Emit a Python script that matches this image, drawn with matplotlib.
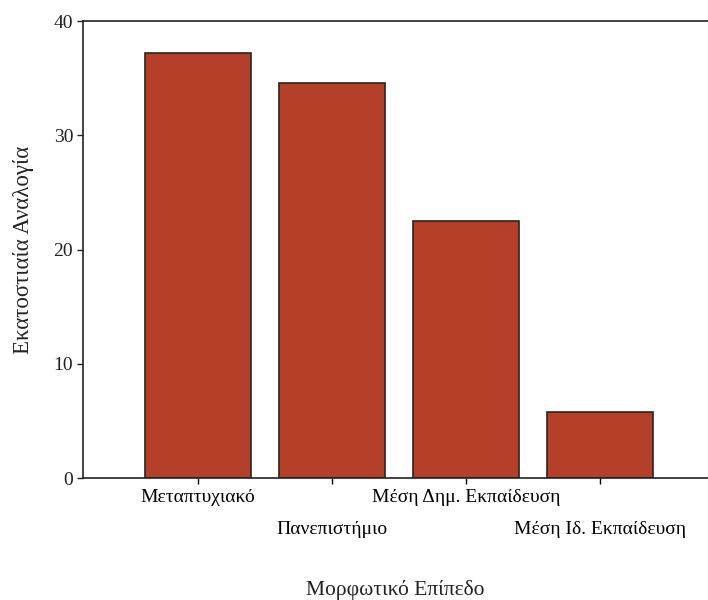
import matplotlib.pyplot as plt

categories = ["Μεταπτυχιακό", "Πανεπιστήμιο", "Μέση Δημ. Εκπαίδευση", "Μέση Ιδ. Εκπαίδευση"]
percent = [37.2, 34.6, 22.5, 5.8]
yticks = [0, 10, 20, 30, 40]

plt.rcParams["font.family"] = ["Liberation Serif", "DejaVu Serif"]

fig = plt.figure(figsize=(7.08, 6.0), dpi=100)
ax = fig.add_axes([0.117, 0.203, 0.883, 0.762])

pos = list(range(len(categories)))
ax.bar(pos, percent, width=0.79, color="#b5402a", edgecolor="#2a2420", linewidth=1.2)

ax.set_xlim(-0.858, 3.806)
ax.set_ylim(0, 40)
ax.set_yticks(yticks)
ax.tick_params(axis="y", length=4, width=1, pad=3, labelsize=14, colors="#222222")

# labels alternate between two rows, as in the original
ax.set_xticks(pos[0::2])
ax.set_xticklabels(categories[0::2])
ax.set_xticks(pos[1::2], minor=True)
ax.set_xticklabels(categories[1::2], minor=True)
ax.tick_params(axis="x", which="major", length=4, width=1, pad=4, labelsize=14)
ax.tick_params(axis="x", which="minor", length=4, width=1, pad=27, labelsize=14)

for side in ["left", "bottom", "top"]:
    ax.spines[side].set_linewidth(1.2)
    ax.spines[side].set_color("#222222")
ax.spines["right"].set_visible(False)

ax.set_ylabel("Εκατοστιαία Αναλογία", fontsize=16.5, labelpad=14, color="#222222")
ax.set_xlabel("Μορφωτικό Επίπεδο", fontsize=15.5, labelpad=30, color="#222222")

fig.savefig("out.png", dpi=100)
